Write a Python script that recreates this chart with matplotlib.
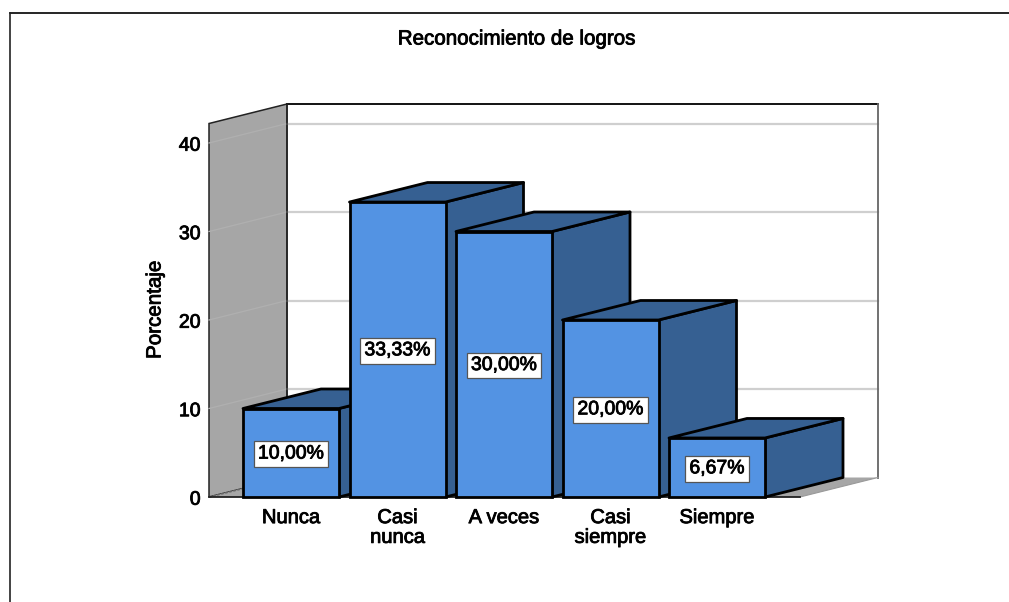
import matplotlib
matplotlib.use("Agg")
import matplotlib.pyplot as plt
import matplotlib.patheffects as pe
from matplotlib.lines import Line2D
from matplotlib.patches import Polygon
from matplotlib.transforms import ScaledTranslation

categories = ["Nunca", "Casi\nnunca", "A veces", "Casi\nsiempre", "Siempre"]
percentages = [10.00, 33.33, 30.00, 20.00, 6.67]
y_ticks = [0, 10, 20, 30, 40]

W, H = 1009, 602
FRONT = "#5393e3"
SIDE = "#366092"
WALL = "#a6a6a6"
# thin outline gives the regular face a heavier look
HEAVY = [pe.withStroke(linewidth=0.6, foreground="black")]

plt.rcParams["font.family"] = ["Liberation Sans", "DejaVu Sans"]

fig = plt.figure(figsize=(W / 100, H / 100), dpi=100, facecolor="white")

# axes box runs from the front of the left wall to the back right corner
ax = fig.add_axes([209 / W, 1 - 497 / H, (878 - 209) / W, (497 - 104) / H])
x_unit = 106.5
y_unit = 8.85
ax.set_xlim((209 - 291) / x_unit, (878 - 291) / x_unit)
ax.set_ylim(0, (497 - 104) / y_unit)
ax.patch.set_visible(False)
for s in ax.spines.values():
    s.set_visible(False)

# oblique depth of the pseudo 3d box
dx = 78 / x_unit
dy = 19.5 / y_unit
x0, x1 = ax.get_xlim()
x_back = x0 + dx
x_front_end = x1 - dx
y_top = ax.get_ylim()[1] - dy

# left wall and floor
ax.add_patch(Polygon([(x0, 0), (x_back, dy), (x_back, y_top + dy), (x0, y_top)],
                     fc=WALL, ec="#222222", lw=1.1, zorder=1, clip_on=False))
ax.add_patch(Polygon([(x0, 0), (x_back, dy), (x1, dy), (x_front_end, 0)],
                     fc=WALL, ec="none", zorder=1, clip_on=False))

# gridlines on the back plane and across the wall
for t in y_ticks[1:]:
    ax.plot([x_back, x1], [t + dy, t + dy], color="#cfcfcf", lw=1.6, zorder=2, clip_on=False)
    ax.plot([x0, x_back], [t, t + dy], color="#b0b0b0", lw=0.9, zorder=2, clip_on=False)
ax.plot([x0, x_back], [0, dy], color="#666666", lw=1.2, ls=(0, (1.5, 1)), zorder=2, clip_on=False)

# back plane outline
ax.plot([x_back, x1], [y_top + dy, y_top + dy], color="black", lw=1.3, zorder=2, clip_on=False)
ax.plot([x_back, x_back], [dy, y_top + dy], color="#222222", lw=1.1, zorder=2, clip_on=False)
ax.plot([x1, x1], [dy, y_top + dy], color="#666666", lw=1.3, zorder=2, clip_on=False)
ax.plot([x_front_end, x1], [0, dy], color="#999999", lw=0.8, zorder=2, clip_on=False)
ax.plot([x0, x_front_end], [0, 0], color="#222222", lw=1.3, zorder=2, clip_on=False)

# bars, left to right so each one covers the depth of the previous one
bar_w = 96 / x_unit
for i, v in enumerate(percentages):
    z = 3 + i
    l, r = i - bar_w / 2, i + bar_w / 2
    ax.add_patch(Polygon([(r, 0), (r + dx, dy), (r + dx, v + dy), (r, v)],
                         fc=SIDE, ec="black", lw=2.0, joinstyle="round", zorder=z, clip_on=False))
    ax.add_patch(Polygon([(l, v), (l + dx, v + dy), (r + dx, v + dy), (r, v)],
                         fc=SIDE, ec="black", lw=2.0, joinstyle="round", zorder=z, clip_on=False))
    ax.bar(i, v, width=bar_w, color=FRONT, edgecolor="black", linewidth=2.0, zorder=z, clip_on=False)

for i, v in enumerate(percentages):
    ax.text(i, v / 2 - 0.15, f"{v:.2f}%".replace(".", ","), ha="center", va="center",
            fontsize=14, color="black", zorder=10, path_effects=HEAVY,
            bbox=dict(boxstyle="square,pad=0.22", fc="white", ec="#555555", lw=0.9))

ax.set_xticks(range(len(categories)))
ax.set_xticklabels(categories, linespacing=1.05)
ax.set_yticks(y_ticks)
ax.tick_params(axis="both", length=0)
ax.tick_params(axis="x", pad=8, labelsize=14.5)
ax.tick_params(axis="y", pad=6, labelsize=14)
for lab in ax.get_xticklabels() + ax.get_yticklabels():
    lab.set_path_effects(HEAVY)
# nudge the value labels down a little
nudge = ScaledTranslation(0, -1.2 / 100, fig.dpi_scale_trans)
for lab in ax.get_yticklabels():
    lab.set_transform(lab.get_transform() + nudge)

fig.text(516 / W, 1 - 39 / H, "Reconocimiento de logros", ha="center", va="center",
         fontsize=14.8, path_effects=HEAVY)
fig.text(155 / W, 1 - 310 / H, "Porcentaje", ha="center", va="center", rotation=90,
         fontsize=14.8, path_effects=HEAVY)

# outer frame, only top and left show
fig.add_artist(Line2D([10 / W, 1], [1 - 12.5 / H, 1 - 12.5 / H], color="black", lw=1.2))
fig.add_artist(Line2D([10 / W, 10 / W], [0, 1 - 12.5 / H], color="#222222", lw=1.2))

fig.savefig("out.png", dpi=100, facecolor="white")
